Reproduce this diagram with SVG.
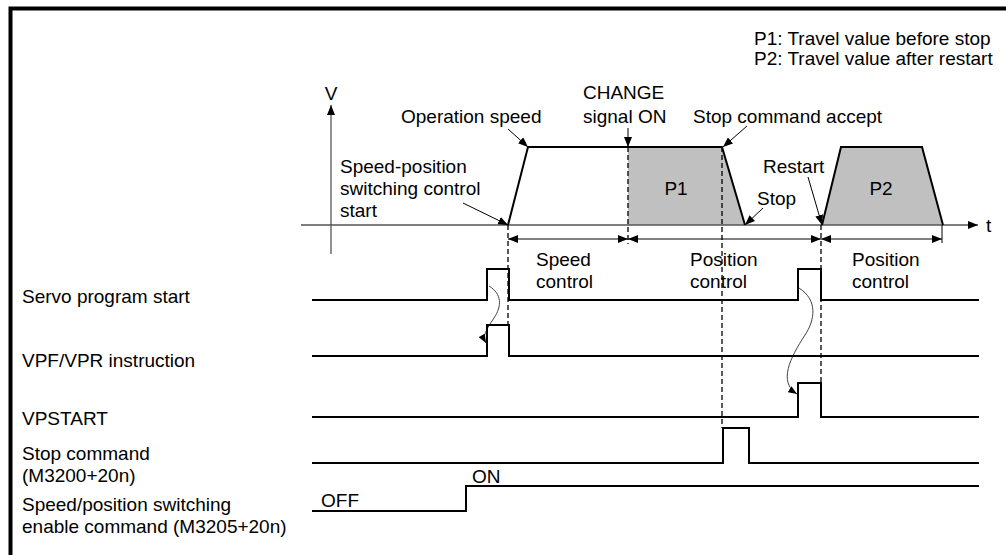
<svg xmlns="http://www.w3.org/2000/svg" width="1006" height="555" viewBox="0 0 1006 555">
<defs>
<marker id="ah" viewBox="0 0 10 8" refX="10" refY="4" markerWidth="10" markerHeight="8" markerUnits="userSpaceOnUse" orient="auto-start-reverse"><path d="M0,0L10,4L0,8z" fill="#000"/></marker>
<marker id="ahc" viewBox="0 0 10 8" refX="10" refY="4" markerWidth="9" markerHeight="7" markerUnits="userSpaceOnUse" orient="auto"><path d="M0,0L10,4L0,8z" fill="#000"/></marker>
</defs>
<style>
text{font-family:"Liberation Sans",Arial,sans-serif;font-size:19px;fill:#000}
.axis{stroke:#555;stroke-width:1.3;fill:none}
.sig{stroke:#000;stroke-width:2;fill:none}
.dash{stroke:#000;stroke-width:1.3;stroke-dasharray:5,3;fill:none}
.lead{stroke:#000;stroke-width:1;fill:none}
.dim{stroke:#000;stroke-width:1;fill:none}
.curve{stroke:#444;stroke-width:1;fill:none}
.area{fill:#c0c0c0;stroke:none}
</style>
<path d="M10.5,555V8.5H1006" stroke="#000" stroke-width="4" fill="none"/>
<g id="legend">
<text x="754" y="45">P1: Travel value before stop</text>
<text x="754" y="65">P2: Travel value after restart</text>
</g>
<g id="areas">
<polygon class="area" points="628,147 722,147 745,225 628,225"/>
<polygon class="area" points="822,225 841,147 922,147 943,225"/>
</g>
<g id="axes">
<line class="axis" x1="331" y1="254" x2="331" y2="105" marker-end="url(#ah)"/>
<text x="331" y="100" text-anchor="middle">V</text>
<line class="axis" x1="301" y1="225" x2="978" y2="225" marker-end="url(#ah)"/>
<text x="986" y="232">t</text>
</g>
<g id="profile">
<polyline class="sig" points="508,225 528,147 628,147"/>
<polyline class="sig" points="628,147 722,147 745,225"/>
<polyline class="sig" points="822,225 841,147 922,147 943,225"/>
<text x="676" y="195" text-anchor="middle">P1</text>
<text x="881" y="195" text-anchor="middle">P2</text>
</g>
<g id="connectors">
<line class="dash" x1="508" y1="225" x2="508" y2="325"/>
<line class="dash" x1="628" y1="147" x2="628" y2="244"/>
<line class="dash" x1="722" y1="147" x2="722" y2="428"/>
<line class="dash" x1="821" y1="225" x2="821" y2="383"/>
<line class="dim" x1="508" y1="239" x2="628" y2="239" marker-start="url(#ah)" marker-end="url(#ah)"/>
<line class="dim" x1="628" y1="239" x2="821" y2="239" marker-start="url(#ah)" marker-end="url(#ah)"/>
<line class="dim" x1="821" y1="239" x2="942" y2="239" marker-start="url(#ah)" marker-end="url(#ah)"/>
<line class="dim" x1="942" y1="225" x2="942" y2="243"/>
<line class="lead" x1="508" y1="129" x2="528" y2="147" marker-end="url(#ah)"/>
<line class="lead" x1="463" y1="203" x2="508" y2="225" marker-end="url(#ah)"/>
<line class="lead" x1="628" y1="128" x2="628" y2="147" marker-end="url(#ah)"/>
<line class="lead" x1="747" y1="126" x2="723" y2="147" marker-end="url(#ah)"/>
<line class="lead" x1="808" y1="177" x2="822" y2="225" marker-end="url(#ah)"/>
<line class="lead" x1="763" y1="208" x2="745" y2="225" marker-end="url(#ah)"/>
<path class="curve" d="M489,286C502,294 502,306 494,318C486,330 482,336 486,343" marker-end="url(#ahc)"/>
<path class="curve" d="M799,288C818,300 815,320 805,335C790,358 778,382 797,394" marker-end="url(#ahc)"/>
</g>
<g id="labels">
<text x="340" y="173">Speed-position</text>
<text x="340" y="195">switching control</text>
<text x="340" y="217">start</text>
<text x="401" y="123">Operation speed</text>
<text x="583" y="99">CHANGE</text>
<text x="583" y="123">signal ON</text>
<text x="693" y="123">Stop command accept</text>
<text x="763" y="173">Restart</text>
<text x="757" y="205">Stop</text>
<text x="536" y="266">Speed</text>
<text x="536" y="288">control</text>
<text x="690" y="266">Position</text>
<text x="690" y="288">control</text>
<text x="852" y="266">Position</text>
<text x="852" y="288">control</text>
</g>
<g id="servo">
<text x="22" y="303">Servo program start</text>
<path class="sig" d="M312,300H487V269H509V300H798V269H821V300H979"/>
</g>
<g id="vpf">
<text x="22" y="367">VPF/VPR instruction</text>
<path class="sig" d="M312,356H487V325H509V356H979"/>
</g>
<g id="vpstart">
<text x="22" y="425">VPSTART</text>
<path class="sig" d="M312,417H798V383H821V417H979"/>
</g>
<g id="stop">
<text x="22" y="460">Stop command</text>
<text x="22" y="482">(M3200+20n)</text>
<path class="sig" d="M312,463H723V428H749V463H979"/>
</g>
<g id="enable">
<text x="22" y="511">Speed/position switching</text>
<text x="22" y="533">enable command (M3205+20n)</text>
<path class="sig" d="M312,511H466V486H979"/>
<text x="321" y="507">OFF</text>
<text x="472" y="483">ON</text>
</g>
</svg>
